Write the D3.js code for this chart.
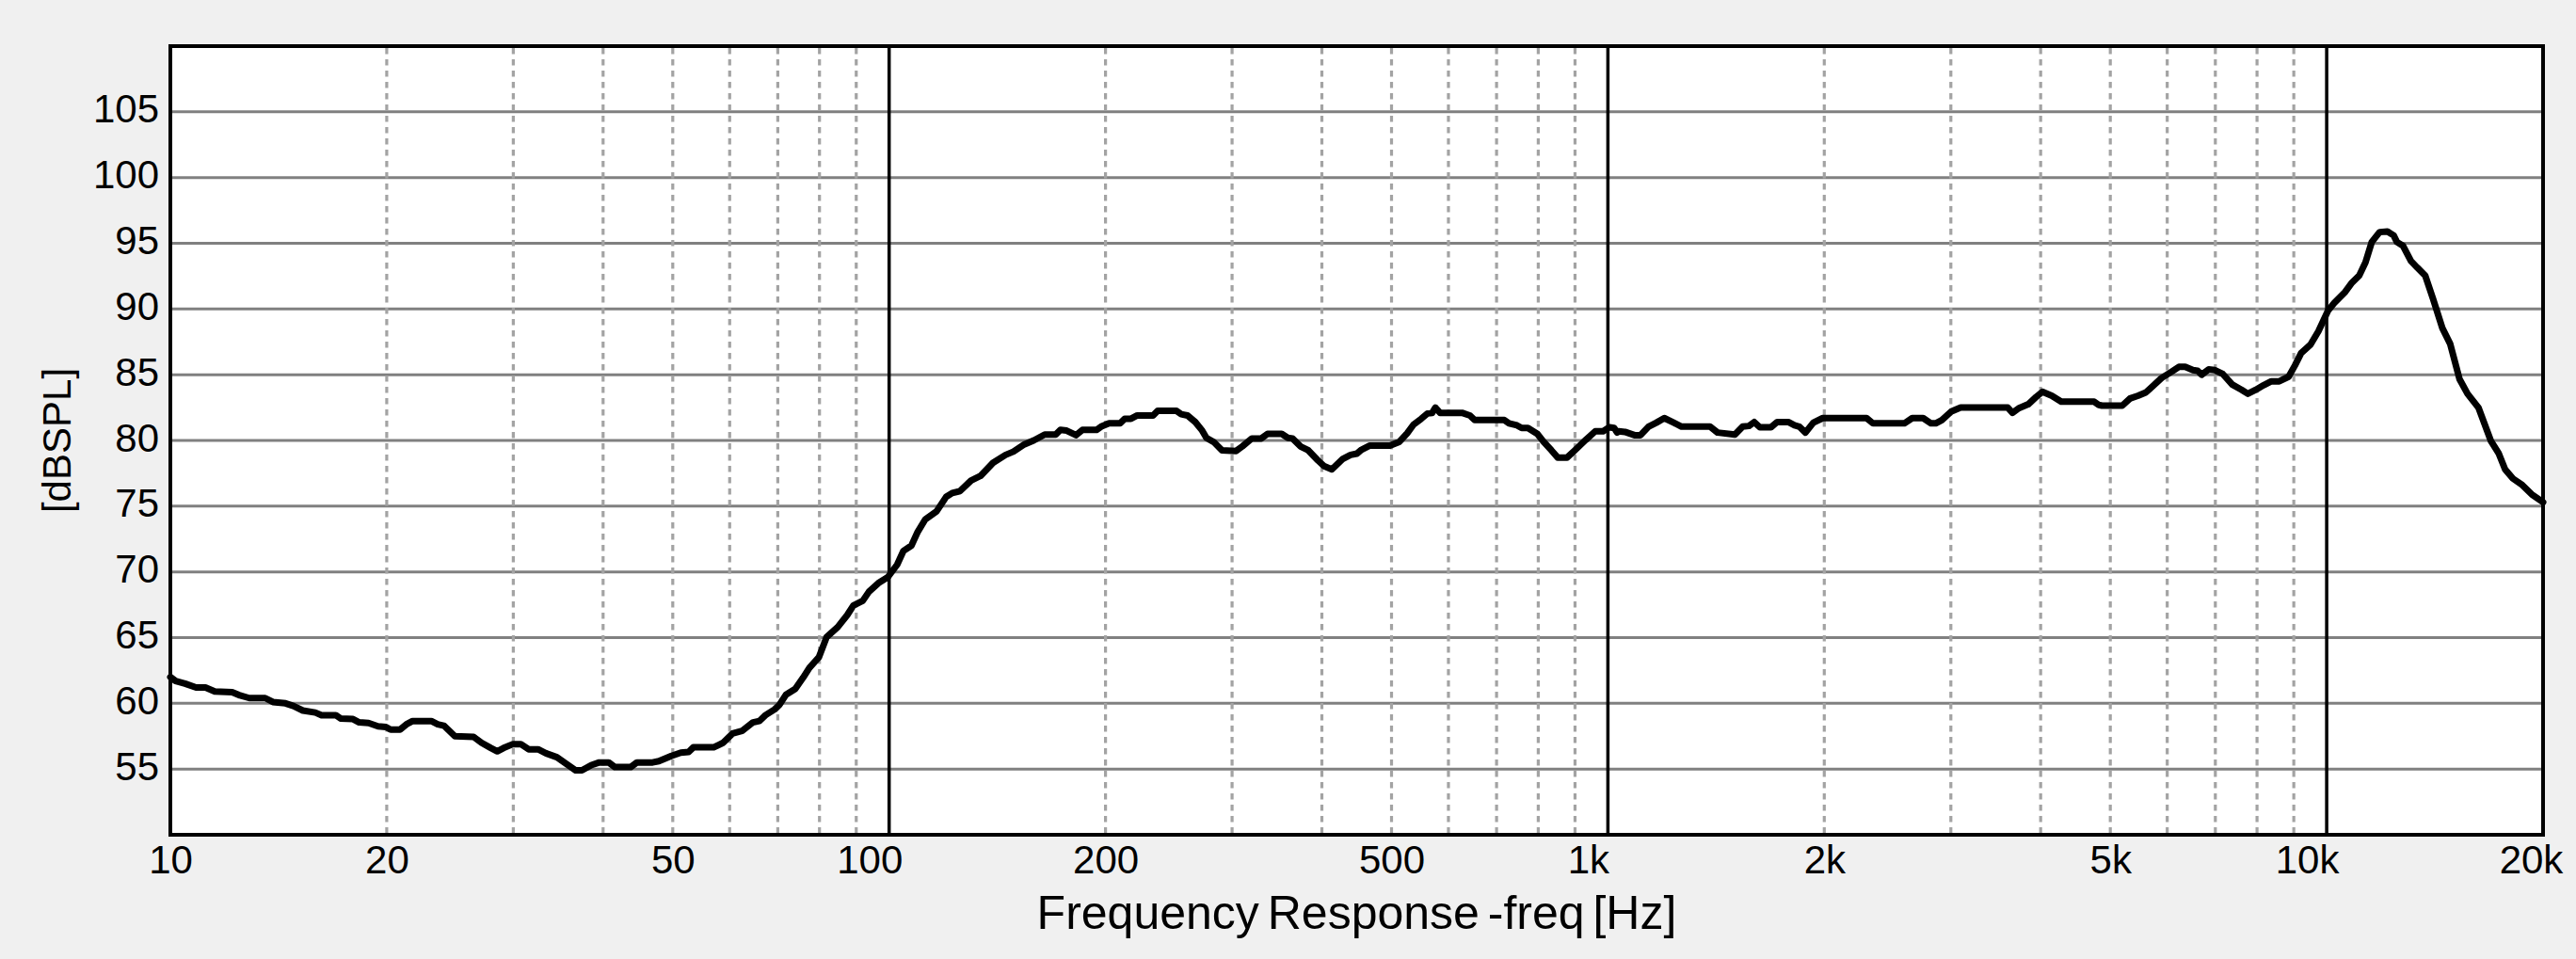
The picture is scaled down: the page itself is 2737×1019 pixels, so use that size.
<!DOCTYPE html>
<html>
<head>
<meta charset="utf-8">
<script src="https://cdn.jsdelivr.net/npm/d3@7"></script>
<style>
  html, body { margin: 0; padding: 0; background: #f0f0f0; }
  svg { display: block; }
  text { font-family: "Liberation Sans", Arial, sans-serif; fill: #000; }
</style>
</head>
<body>
<svg id="chart" width="2737" height="1019"></svg>
<script>
// ---- data ----
const freqHz = [
  10, 10.17, 10.48, 10.86, 11.19, 11.53, 12.19, 12.50, 12.88, 13.55, 13.89, 14.46, 14.83, 15.29, 15.91, 16.23,
  16.99, 17.25, 17.95, 18.31, 18.87, 19.45, 19.95, 20.25, 20.87, 21.30, 21.73, 23.07, 23.55, 24.02, 24.88, 26.42,
  27.10, 27.93, 28.50, 29.08, 29.97, 30.73, 31.51, 32.48, 33.30, 34.50, 35.55, 36.64, 37.38, 38.52, 39.51, 40.72,
  41.54, 43.69, 44.58, 46.87, 47.83, 49.77, 51.30, 52.61, 53.41, 57.00, 58.75, 60.55, 62.41, 64.65, 65.97, 67.30,
  69.34, 70.40, 71.83, 74.03, 75.91, 77.46, 79.84, 81.87, 84.80, 87.40, 89.18, 91.90, 93.76, 96.63, 99.59, 102.6,
  104.7, 107.4, 109.6, 112.3, 116.4, 120.0, 122.4, 125.5, 130.0, 134.0, 139.5, 145.2, 148.9, 154.2, 158.9, 164.6,
  170.5, 173.1, 176.6, 182.0, 185.7, 194.3, 197.2, 202.3, 209.6, 212.7, 217.0, 221.4, 232.9, 236.4, 251.1, 254.9,
  260.1, 266.7, 272.2, 276.3, 283.3, 290.5, 303.9, 310.1, 319.6, 329.4, 336.1, 351.7, 358.7, 364.2, 373.5, 382.9,
  394.7, 402.8, 413.0, 427.8, 438.5, 447.5, 454.3, 465.8, 497.4, 512.7, 525.7, 536.4, 550.0, 561.0, 569.6, 575.4,
  584.1, 626.6, 642.7, 652.5, 717.6, 728.6, 747.3, 758.6, 773.9, 797.6, 813.8, 834.4, 851.4, 877.5, 899.5, 931.7,
  960.3, 984.7, 1004.7, 1020, 1030, 1035, 1056, 1089, 1110, 1139, 1168, 1198, 1235, 1266, 1387, 1421,
  1502, 1540, 1571, 1598, 1627, 1686, 1720, 1782, 1818, 1846, 1883, 1931, 1990, 2290, 2338, 2585,
  2651, 2745, 2815, 2858, 2915, 3004, 3096, 3600, 3655, 3730, 3844, 3941, 4022, 4145, 4272, 4748,
  4820, 4868, 5195, 5327, 5464, 5603, 5893, 6073, 6228, 6355, 6516, 6615, 6701, 6852, 6991, 7170,
  7390, 7616, 7768, 7967, 8170, 8375, 8590, 8853, 9032, 9215, 9497, 9738, 10037, 10242, 10610, 10823,
  11100, 11324, 11554, 11847, 12150, 12393, 12522, 12773, 13100, 13366, 13709, 14054, 14485, 14853, 15308, 15701,
  16260, 16926, 17356, 17711, 18160, 18716, 19290, 20000
];
const splDb = [
  62.0, 61.7, 61.5, 61.2, 61.2, 60.9, 60.85, 60.6, 60.4, 60.4, 60.1, 60.0, 59.8, 59.45, 59.3, 59.1,
  59.1, 58.85, 58.8, 58.55, 58.5, 58.25, 58.2, 58.0, 58.0, 58.4, 58.65, 58.65, 58.4, 58.3, 57.5, 57.45,
  57.0, 56.6, 56.35, 56.6, 56.9, 56.9, 56.5, 56.5, 56.2, 55.9, 55.4, 54.9, 54.9, 55.3, 55.5, 55.5,
  55.15, 55.15, 55.5, 55.5, 55.6, 56.0, 56.25, 56.3, 56.65, 56.65, 57.0, 57.7, 57.9, 58.55, 58.65, 59.1,
  59.55, 59.9, 60.65, 61.1, 61.95, 62.7, 63.5, 65.05, 65.8, 66.7, 67.45, 67.8, 68.5, 69.15, 69.6, 70.55,
  71.6, 72.0, 73.05, 74.0, 74.6, 75.7, 76.0, 76.15, 76.95, 77.3, 78.3, 78.9, 79.15, 79.7, 80.0, 80.45,
  80.45, 80.8, 80.75, 80.4, 80.8, 80.8, 81.05, 81.3, 81.3, 81.65, 81.65, 81.9, 81.9, 82.25, 82.25, 82.0,
  81.9, 81.4, 80.8, 80.2, 79.85, 79.25, 79.2, 79.55, 80.15, 80.15, 80.5, 80.5, 80.2, 80.15, 79.55, 79.25,
  78.5, 78.05, 77.8, 78.6, 78.9, 79.0, 79.3, 79.6, 79.6, 79.9, 80.55, 81.2, 81.65, 82.05, 82.1, 82.5,
  82.1, 82.1, 81.9, 81.55, 81.55, 81.3, 81.15, 80.95, 80.95, 80.5, 79.9, 79.25, 78.7, 78.7, 79.25, 80.05,
  80.7, 80.7, 81.0, 80.95, 80.6, 80.7, 80.65, 80.4, 80.4, 81.05, 81.35, 81.7, 81.35, 81.05, 81.05, 80.6,
  80.45, 81.05, 81.1, 81.4, 81.0, 81.0, 81.4, 81.4, 81.15, 81.05, 80.6, 81.35, 81.7, 81.7, 81.3, 81.3,
  81.7, 81.7, 81.3, 81.3, 81.55, 82.2, 82.5, 82.5, 82.1, 82.45, 82.75, 83.3, 83.7, 83.4, 82.95, 82.95,
  82.7, 82.65, 82.65, 83.2, 83.4, 83.65, 84.75, 85.2, 85.6, 85.6, 85.35, 85.3, 85.0, 85.4, 85.35, 85.05,
  84.25, 83.85, 83.55, 83.85, 84.2, 84.5, 84.5, 84.85, 85.7, 86.65, 87.3, 88.3, 89.85, 90.45, 91.3, 91.95,
  92.55, 93.55, 95.1, 95.85, 95.9, 95.6, 95.1, 94.8, 93.65, 93.15, 92.55, 90.8, 88.55, 87.35, 84.65, 83.55,
  82.5, 79.95, 79.0, 77.8, 77.1, 76.6, 75.9, 75.3
];
const xTickValues = [10, 20, 50, 100, 200, 500, 1000, 2000, 5000, 10000, 20000];
const xTickLabels = ["10", "20", "50", "100", "200", "500", "1k", "2k", "5k", "10k", "20k"];
const yTickValues = [55, 60, 65, 70, 75, 80, 85, 90, 95, 100, 105];
const minorGridHz = [20, 30, 40, 50, 60, 70, 80, 90, 200, 300, 400, 500, 600, 700, 800, 900,
                     2000, 3000, 4000, 5000, 6000, 7000, 8000, 9000];
const majorGridHz = [100, 1000, 10000];
const xDomain = [10, 20000];
const yDomain = [50, 110];
const xTitle = "Frequency Response -freq [Hz]";
const yTitle = "[dBSPL]";

// ---- layout ----
const W = 2737, H = 1019;
const L = 181, R = 2702, T = 49, B = 887;

const svg = d3.select("#chart");
svg.append("rect").attr("width", W).attr("height", H).attr("fill", "#f0f0f0");

const x = d3.scaleLog().domain(xDomain).range([L, R]);
const y = d3.scaleLinear().domain(yDomain).range([B, T]);

svg.append("rect").attr("x", L).attr("y", T).attr("width", R - L).attr("height", B - T).attr("fill", "#ffffff");

// horizontal grid
svg.append("g").selectAll("line").data(yTickValues).join("line")
  .attr("x1", L).attr("x2", R)
  .attr("y1", d => y(d)).attr("y2", d => y(d))
  .attr("stroke", "#808080").attr("stroke-width", 3);

// minor vertical grid (dashed)
svg.append("g").selectAll("line").data(minorGridHz).join("line")
  .attr("x1", d => x(d)).attr("x2", d => x(d))
  .attr("y1", T + 2).attr("y2", B)
  .attr("stroke", "#a3a3a3").attr("stroke-width", 3.2)
  .attr("stroke-dasharray", "6.5,5.5");

// major vertical grid (solid)
svg.append("g").selectAll("line").data(majorGridHz).join("line")
  .attr("x1", d => x(d)).attr("x2", d => x(d))
  .attr("y1", T).attr("y2", B)
  .attr("stroke", "#000").attr("stroke-width", 3.5);

// curve
const pts = freqHz.map((f, i) => ({ f, v: splDb[i] }));
const line = d3.line().x(d => x(d.f)).y(d => y(d.v));
svg.append("path").datum(pts)
  .attr("d", line)
  .attr("fill", "none").attr("stroke", "#000")
  .attr("stroke-width", 7)
  .attr("stroke-linejoin", "round").attr("stroke-linecap", "round");

// frame
svg.append("rect").attr("x", L).attr("y", T).attr("width", R - L).attr("height", B - T)
  .attr("fill", "none").attr("stroke", "#000").attr("stroke-width", 4);

// x axis
const xAxis = d3.axisBottom(x).tickValues(xTickValues)
  .tickFormat((d, i) => xTickLabels[i]).tickSize(0);
const gx = svg.append("g").attr("transform", `translate(0,${B})`).call(xAxis);
gx.select(".domain").remove();
gx.selectAll("text")
  .attr("y", 41).attr("dy", 0)
  .attr("dx", d => (d === 100 || d === 1000 || d === 10000) ? -21 : (d === 20000 ? -13 : 0))
  .style("font-size", "42px").style("font-family", "'Liberation Sans', Arial, sans-serif").attr("fill", "#000");

// y axis
const yAxis = d3.axisLeft(y).tickValues(yTickValues).tickSize(0);
const gy = svg.append("g").attr("transform", `translate(${L},0)`).call(yAxis);
gy.select(".domain").remove();
gy.selectAll("text")
  .attr("x", -12).attr("y", 11).attr("dy", 0)
  .style("font-size", "42px").style("font-family", "'Liberation Sans', Arial, sans-serif").attr("fill", "#000");

// titles
svg.append("text").attr("x", (L + R) / 2).attr("y", 987)
  .attr("text-anchor", "middle").style("font-size", "50px").style("word-spacing", "-5px").text(xTitle);
svg.append("text").attr("transform", `translate(75,${(T + B) / 2}) rotate(-90)`)
  .attr("text-anchor", "middle").style("font-size", "42px").text(yTitle);
</script>
</body>
</html>
